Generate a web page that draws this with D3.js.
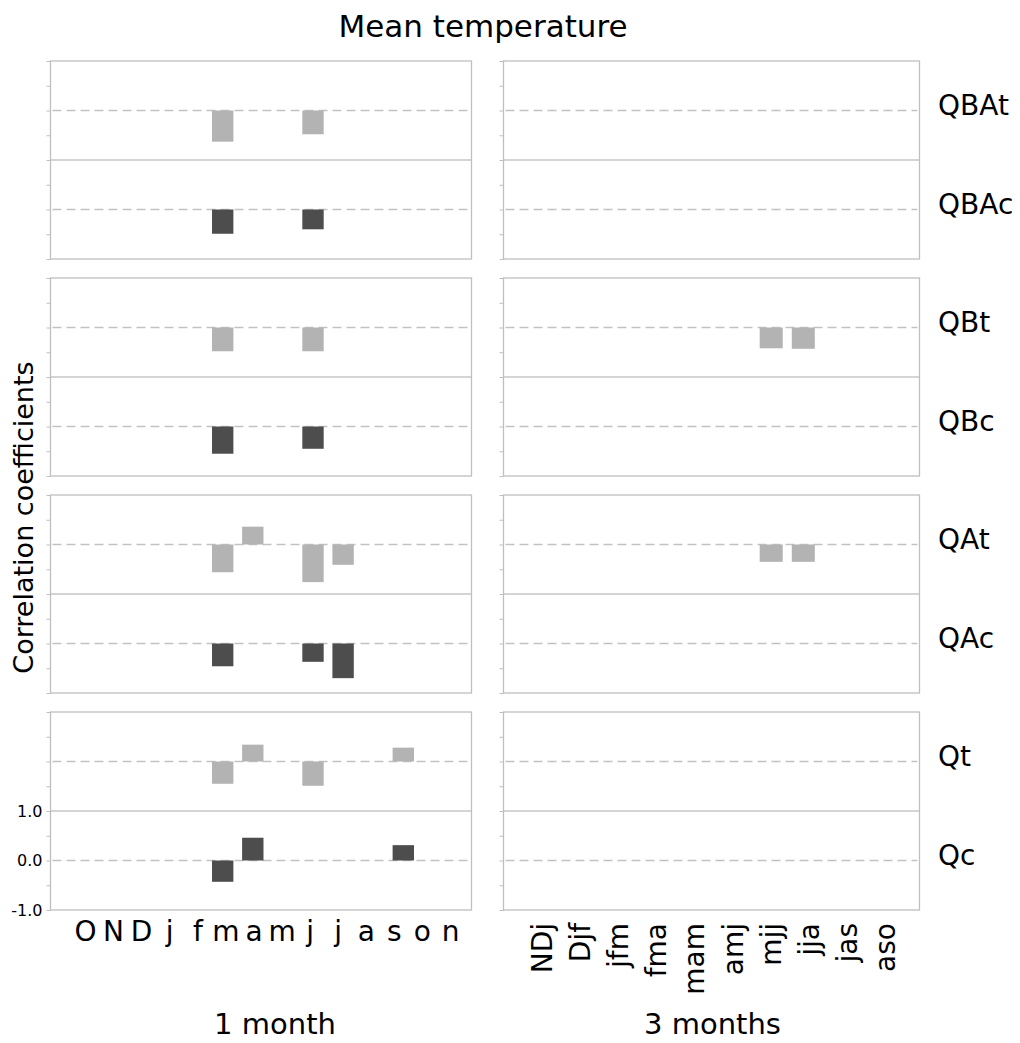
<!DOCTYPE html>
<html>
<head>
<meta charset="utf-8">
<script src="https://cdn.jsdelivr.net/npm/d3@7"></script>
<style>
  html, body { margin: 0; padding: 0; background: #ffffff; }
  svg { display: block; }
</style>
</head>
<body>
<script>
// ---------- data ----------
const N = null;
const monthLabels = ["O","N","D","j","f","m","a","m","j","j","a","s","o","n"];
const seasonLabels = ["NDj","Djf","jfm","fma","mam","amj","mjj","jja","jas","aso"];
const rowNames = ["QBA","QB","QA","Q"];
const yTickValues = [-1,-0.5,0,0.5,1,1.5,2,2.5,3];
const yTickLabels = {"-1":"-1.0","0":"0.0","1":"1.0"};

// 1 month (aligned with monthLabels)
const qbaT1 = [N,N,N,N,N,-0.63,N,N,-0.48,N,N,N,N,N];
const qbaC1 = [N,N,N,N,N,-0.49,N,N,-0.40,N,N,N,N,N];
const qbT1  = [N,N,N,N,N,-0.48,N,N,-0.48,N,N,N,N,N];
const qbC1  = [N,N,N,N,N,-0.55,N,N,-0.45,N,N,N,N,N];
const qaT1  = [N,N,N,N,N,-0.56,0.36,N,-0.76,-0.41,N,N,N,N];
const qaC1  = [N,N,N,N,N,-0.46,N,N,-0.37,-0.70,N,N,N,N];
const qT1   = [N,N,N,N,N,-0.45,0.34,N,-0.49,N,N,0.28,N,N];
const qC1   = [N,N,N,N,N,-0.43,0.46,N,N,N,N,0.31,N,N];

// 3 months (aligned with seasonLabels)
const qbaT3 = [N,N,N,N,N,N,N,N,N,N];
const qbaC3 = [N,N,N,N,N,N,N,N,N,N];
const qbT3  = [N,N,N,N,N,N,-0.42,-0.43,N,N];
const qbC3  = [N,N,N,N,N,N,N,N,N,N];
const qaT3  = [N,N,N,N,N,N,-0.35,-0.35,N,N];
const qaC3  = [N,N,N,N,N,N,N,N,N,N];
const qT3   = [N,N,N,N,N,N,N,N,N,N];
const qC3   = [N,N,N,N,N,N,N,N,N,N];

const rows = [
  {name: rowNames[0], t1: qbaT1, c1: qbaC1, t3: qbaT3, c3: qbaC3},
  {name: rowNames[1], t1: qbT1,  c1: qbC1,  t3: qbT3,  c3: qbC3},
  {name: rowNames[2], t1: qaT1,  c1: qaC1,  t3: qaT3,  c3: qaC3},
  {name: rowNames[3], t1: qT1,   c1: qC1,   t3: qT3,   c3: qC3}
];

// ---------- layout ----------
const W = 1020, H = 1043;
const FONT = "DejaVu Sans";
const panelH = 198, panelGap = 217, firstTop = 61;
const sides = [
  {x0: 50.5,  x1: 471.5, key: "1"},
  {x0: 503.5, x1: 919.5, key: "3"}
];
const tBase = 2, cBase = 0;
const colT = "#b3b3b3", colC = "#4d4d4d";
const frameCol = "#bfbfbf", midCol = "#a9a9a9", dashCol = "#c2c2c2";

const svg = d3.select("body").append("svg")
  .attr("width", W).attr("height", H)
  .style("font-family", FONT);

svg.append("rect").attr("width", W).attr("height", H).attr("fill", "#fff");

const xMonth = d3.scaleBand().domain(d3.range(monthLabels.length))
  .range([57.15, 478.55]).paddingInner(0.29).paddingOuter(0.145);
const xSeason = d3.scaleBand().domain(d3.range(seasonLabels.length))
  .range([562.55, 883.55]).paddingInner(0.283).paddingOuter(0.1415);
const xScales = {"1": xMonth, "3": xSeason};

rows.forEach((row, i) => {
  const top = firstTop + i * panelGap;
  const y = d3.scaleLinear().domain([-1, 3]).range([top + panelH, top]);

  sides.forEach((side, si) => {
    const g = svg.append("g");
    // ticks
    const axis = d3.axisLeft(y).tickValues(yTickValues).tickSize(4).tickPadding(4)
      .tickFormat(d => (i === rows.length - 1 && si === 0) ? (yTickLabels[String(d)] || "") : "");
    const ag = g.append("g").attr("transform", `translate(${side.x0},0)`).call(axis);
    ag.select(".domain").remove();
    ag.selectAll(".tick line").attr("stroke", frameCol);
    ag.selectAll(".tick text").attr("fill", "#000").style("font-size", "16px").style("font-family", FONT);

    // dashed baselines
    [tBase, cBase].forEach(b => {
      g.append("line")
        .attr("x1", side.x0 + 2).attr("x2", side.x1 - 2)
        .attr("y1", y(b)).attr("y2", y(b))
        .attr("stroke", dashCol).attr("stroke-width", 1.4)
        .attr("stroke-dasharray", "9,5");
    });
    // middle solid line
    g.append("line")
      .attr("x1", side.x0).attr("x2", side.x1)
      .attr("y1", y(1)).attr("y2", y(1))
      .attr("stroke", midCol).attr("stroke-width", 1.2);

    // bars
    const xs = xScales[side.key];
    const tVals = row["t" + side.key], cVals = row["c" + side.key];
    [[tVals, tBase, colT], [cVals, cBase, colC]].forEach(([vals, base, col]) => {
      const data = vals.map((v, k) => ({k, v})).filter(d => d.v !== null);
      g.selectAll(null).data(data).enter().append("rect")
        .attr("x", d => xs(d.k))
        .attr("width", xs.bandwidth())
        .attr("y", d => Math.min(y(base), y(base + d.v)))
        .attr("height", d => Math.abs(y(base + d.v) - y(base)))
        .attr("fill", col);
    });

    // frame
    g.append("rect")
      .attr("x", side.x0).attr("y", top)
      .attr("width", side.x1 - side.x0).attr("height", panelH)
      .attr("fill", "none").attr("stroke", frameCol).attr("stroke-width", 1.3);
  });

  // row labels
  svg.append("text").attr("x", 938).attr("y", y(tBase) + 4)
    .style("font-size", "28px").text(row.name + "t");
  svg.append("text").attr("x", 938).attr("y", y(cBase) + 4)
    .style("font-size", "28px").text(row.name + "c");
});

// month labels (1 month)
const monthLabelScale = d3.scalePoint().domain(d3.range(monthLabels.length)).range([85.5, 450.5]);
svg.append("g").selectAll("text").data(monthLabels).enter().append("text")
  .attr("x", (d, k) => monthLabelScale(k))
  .attr("y", 941)
  .attr("text-anchor", "middle")
  .style("font-size", "28px")
  .text(d => d);

// season labels (3 months), rotated
const seasonLabelScale = d3.scalePoint().domain(d3.range(seasonLabels.length)).range([552, 895]);
svg.append("g").selectAll("text").data(seasonLabels).enter().append("text")
  .attr("transform", (d, k) => `translate(${seasonLabelScale(k)},923) rotate(-90)`)
  .attr("text-anchor", "end")
  .style("font-size", "28px")
  .text(d => d);

// titles
svg.append("text").attr("x", 483).attr("y", 37).attr("text-anchor", "middle")
  .style("font-size", "31px").text("Mean temperature");
svg.append("text").attr("transform", "translate(33,517.5) rotate(-90)")
  .attr("text-anchor", "middle").style("font-size", "27px").text("Correlation coefficients");
svg.append("text").attr("x", 275).attr("y", 1034).attr("text-anchor", "middle")
  .style("font-size", "29px").text("1 month");
svg.append("text").attr("x", 712.5).attr("y", 1034).attr("text-anchor", "middle")
  .style("font-size", "29px").text("3 months");
</script>
</body>
</html>
